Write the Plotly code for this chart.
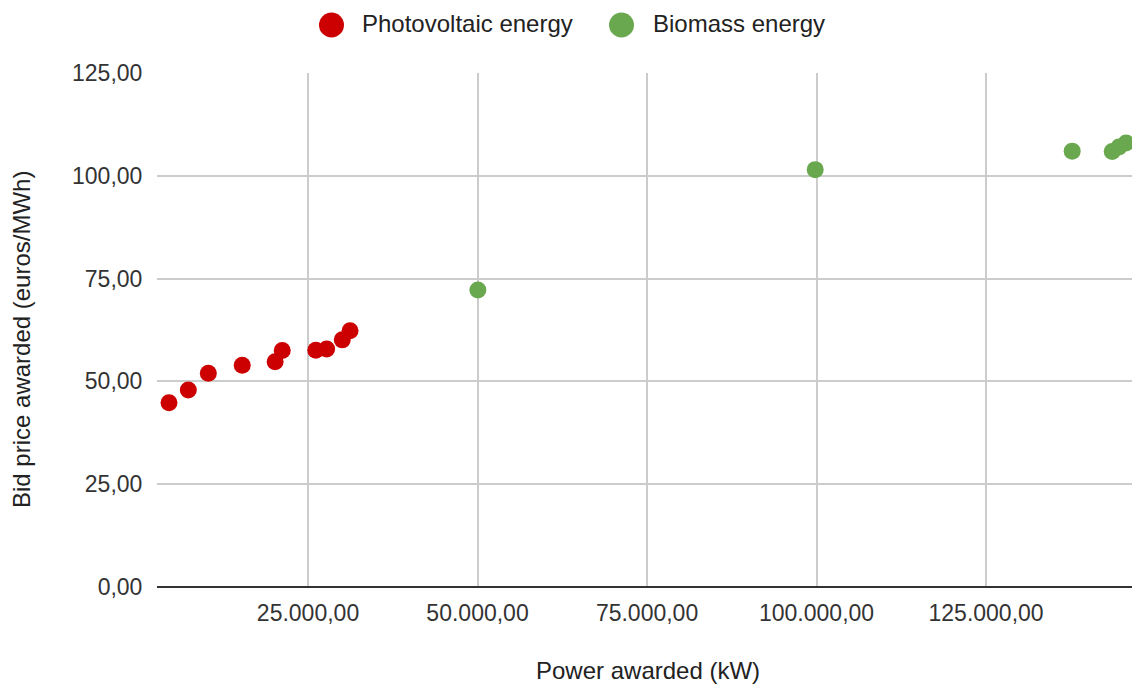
import plotly.graph_objects as go

# Awarded auction bids: power (kW) vs bid price (euros/MWh)
series_names = ["Photovoltaic energy", "Biomass energy"]
series_colors = ["#cc0000", "#6aa84f"]

pv_power = [4500, 7350, 10300, 15300, 20150, 21200, 26150, 27750, 30050, 31200]
pv_price = [44.8, 47.9, 52.0, 53.9, 54.8, 57.5, 57.6, 57.9, 60.1, 62.3]

bio_power = [50050, 99800, 137700, 143600, 144600, 145650]
bio_price = [72.2, 101.5, 106.0, 105.9, 107.0, 108.0]

x_ticks = [25000, 50000, 75000, 100000, 125000]
y_ticks = [0, 25, 50, 75, 100, 125]

x_title = "Power awarded (kW)"
y_title = "Bid price awarded (euros/MWh)"

FONT = "Arial, Liberation Sans, sans-serif"
W, H = 1132, 687
M_L, M_R, M_T, M_B = 157, 0, 73, 100

fig = go.Figure()
fig.add_trace(go.Scatter(x=pv_power, y=pv_price, mode="markers", name=series_names[0],
                         marker=dict(size=17, color=series_colors[0])))
fig.add_trace(go.Scatter(x=bio_power, y=bio_price, mode="markers", name=series_names[1],
                         marker=dict(size=17, color=series_colors[1])))

plot_w = W - M_L - M_R
plot_h = H - M_T - M_B


def px_x(px):
    return (px - M_L) / plot_w


def px_y(py):
    return (H - M_B - py) / plot_h


# Legend drawn as circles + labels above the plot
legend_items = [(331.5, 360), (621.5, 651)]
shapes = []
annotations = []
for (cx, tx), name, color in zip(legend_items, series_names, series_colors):
    shapes.append(dict(type="circle", xref="paper", yref="paper",
                       xsizemode="pixel", ysizemode="pixel",
                       xanchor=px_x(cx), yanchor=px_y(25),
                       x0=-12.5, x1=12.5, y0=-12.5, y1=12.5,
                       fillcolor=color, line=dict(width=0)))
    annotations.append(dict(text=name, xref="paper", yref="paper",
                            x=px_x(tx), y=px_y(24),
                            xanchor="left", yanchor="middle", showarrow=False,
                            font=dict(family=FONT, size=24, color="#222222")))

# Axis titles
annotations.append(dict(text=x_title, xref="paper", yref="paper",
                        x=px_x(648), y=px_y(670), xanchor="center", yanchor="middle",
                        showarrow=False, font=dict(family=FONT, size=24, color="#222222")))
annotations.append(dict(text=y_title, xref="paper", yref="paper", textangle=-90,
                        x=px_x(22), y=px_y(340), xanchor="center", yanchor="middle",
                        showarrow=False, font=dict(family=FONT, size=24, color="#222222")))

fig.update_layout(
    width=W, height=H,
    margin=dict(l=M_L, r=M_R, t=M_T, b=M_B),
    paper_bgcolor="white", plot_bgcolor="white",
    separators=",.",
    showlegend=False,
    font=dict(family=FONT, size=23, color="#333333"),
    shapes=shapes, annotations=annotations,
    xaxis=dict(range=[2730, 146520], tickvals=x_ticks, tickformat=",.2f",
               showgrid=True, gridcolor="#cccccc", gridwidth=1.5,
               zeroline=False, showline=False,
               ticks="outside", ticklen=5, tickcolor="rgba(0,0,0,0)"),
    yaxis=dict(range=[0, 125], tickvals=y_ticks, tickformat=",.2f",
               showgrid=True, gridcolor="#cccccc", gridwidth=1.5,
               zeroline=True, zerolinecolor="#333333", zerolinewidth=2,
               showline=False,
               ticks="outside", ticklen=9, tickcolor="rgba(0,0,0,0)"),
)

fig.write_html("out.html")
